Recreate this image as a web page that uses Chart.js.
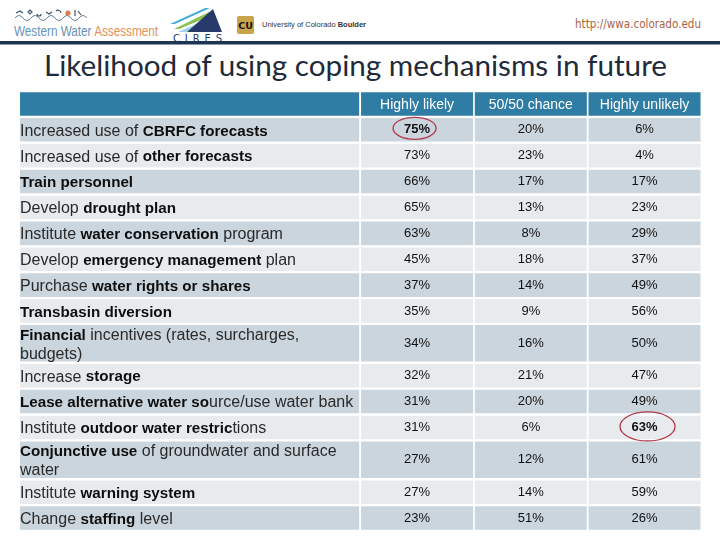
<!DOCTYPE html>
<html>
<head>
<meta charset="utf-8">
<title>Likelihood of using coping mechanisms in future</title>
<script src="https://cdn.jsdelivr.net/npm/chart.js@4.4.1/dist/chart.umd.min.js"></script>
<style>
html,body{margin:0;padding:0;background:#ffffff;}
#page{position:relative;width:720px;height:540px;overflow:hidden;background:#fff;}
#deco{position:absolute;left:0;top:0;}
#chart{position:absolute;left:0;top:0;}
</style>
</head>
<body>
<div id="page">
<svg id="deco" width="720" height="540" xmlns="http://www.w3.org/2000/svg">
  <!-- Western Water Assessment logo -->
  <path d="M15 18 Q19 13 23 18 T31 18 T39 18 T47 18 T55 18 T63 18 T71 18 T79 18 T87 18" fill="none" stroke="#6b8299" stroke-width="1"/>
  <path d="M16 13 l4 -2 l3 2 M28 12 l2 -2 l2 2 l-2 2 z M37 14 a2 2 0 1 0 4 0 M46 12 l3 2 l3 -2 M56 11 a3 3 0 0 1 5 2 M75 10 l0 6 M78 11 l3 4" fill="none" stroke="#3f5266" stroke-width="1.2"/>
  <circle cx="68" cy="13" r="2.6" fill="#e0784a"/>
  <text x="14" y="35.5" font-family="Liberation Sans, Arial, sans-serif" font-size="14" textLength="144" lengthAdjust="spacingAndGlyphs"><tspan fill="#6a93b8">Western Water </tspan><tspan fill="#e4915a">Assessment</tspan></text>
  <!-- CIRES logo -->
  <polygon points="170,24 205,8 210,8 175,24" fill="#47aed4"/>
  <polygon points="174,29 209,12 213,15 179,29" fill="#8cc152"/>
  <polygon points="178,32 212,17 214,20 186,32" fill="#9fd3e6"/>
  <polygon points="187,32 213,9 222,32" fill="#27396b"/>
  <text x="173" y="42" font-family="DejaVu Sans, sans-serif" font-size="10" fill="#27396b" textLength="49" lengthAdjust="spacing">CIRES</text>
  <!-- CU logo -->
  <rect x="237" y="16" width="17" height="18" rx="2" fill="#c9a449"/>
  <text x="245.5" y="29" text-anchor="middle" font-family="DejaVu Sans, sans-serif" font-weight="bold" font-size="9.5" fill="#111">CU</text>
  <text x="262" y="27" font-family="Liberation Sans, Arial, sans-serif" font-size="8" fill="#333" textLength="104" lengthAdjust="spacingAndGlyphs">University of Colorado <tspan font-weight="bold">Boulder</tspan></text>
  <!-- URL -->
  <text x="575" y="27.5" font-family="DejaVu Sans, sans-serif" font-size="12" fill="#a9643f" textLength="126" lengthAdjust="spacingAndGlyphs">http://wwa.colorado.edu</text>
  <!-- dark rule -->
  <rect x="0" y="41" width="720" height="3.5" fill="#1d3551"/>
  <!-- title -->
  <text x="44" y="76" font-family="Lato, 'Open Sans', sans-serif" font-size="29" fill="#1e2b3a" textLength="623" lengthAdjust="spacingAndGlyphs">Likelihood of using coping mechanisms in future</text>
</svg>
<canvas id="chart" width="720" height="540"></canvas>
</div>
<script>
// ---------------- data ----------------
const rowLabels = [
  "Increased use of **CBRFC forecasts**",
  "Increased use of **other forecasts**",
  "**Train personnel**",
  "Develop **drought plan**",
  "Institute **water conservation** program",
  "Develop **emergency management** plan",
  "Purchase **water rights or shares**",
  "**Transbasin diversion**",
  "**Financial** incentives (rates, surcharges,\nbudgets)",
  "Increase **storage**",
  "**Lease alternative water so**urce/use water bank",
  "Institute **outdoor water restric**tions",
  "**Conjunctive use** of groundwater and surface\nwater",
  "Institute **warning system**",
  "Change **staffing** level"
];
const columnLabels = ["Highly likely", "50/50 chance", "Highly unlikely"];
const highlyLikely     = [75, 73, 66, 65, 63, 45, 37, 35, 34, 32, 31, 31, 27, 27, 23];
const fiftyFiftyChance = [20, 23, 17, 13,  8, 18, 14,  9, 16, 21, 20,  6, 12, 14, 51];
const highlyUnlikely   = [ 6,  4, 17, 23, 29, 37, 49, 56, 50, 47, 49, 63, 61, 59, 26];
const circledCells = [{row: 0, col: 0}, {row: 11, col: 2}];

// ---------------- styling / layout ----------------
const seriesValues = [highlyLikely, fiftyFiftyChance, highlyUnlikely];
const FONT = "'Liberation Sans', Arial, sans-serif";
const HEADER_BLUE = '#2f7ca4', STRIPE_DARK = '#cbd5dd', STRIPE_LIGHT = '#e8ebee';
const circleStyle = [{dx: -2.5, dy: -1.5, rx: 21.5, ry: 11}, {dx: 3, dy: -1, rx: 27.5, ry: 14.5}];

// row bands in row units: header = 1, each extra text line adds half a row
const spans = [[0, 1]];
let acc = 1;
rowLabels.forEach(l => {
  const h = 1 + 0.5 * (l.split('\n').length - 1);
  spans.push([acc, acc + h]);
  acc += h;
});
const totalUnits = acc;
const GAP = 0.045;
const barRange = s => [s[0] + GAP, s[1] - GAP];
const fillFor = i => i === 0 ? HEADER_BLUE : (i % 2 === 1 ? STRIPE_DARK : STRIPE_LIGHT);

const xLabels = ['label-a', 'label-b', 'label-c', ...columnLabels];

const common = {grouped: false, categoryPercentage: 1, inflateAmount: 0, borderWidth: 0,
  backgroundColor: c => fillFor(c.dataIndex)};

const datasets = [
  Object.assign({label: 'labels', xAxisID: 'xL', barPercentage: 0.994,
    data: spans.map(s => ({x: 'labels', y: barRange(s)}))}, common),
  ...columnLabels.map(c => Object.assign({label: c, xAxisID: 'x', barPercentage: 0.985,
    data: spans.map(s => ({x: c, y: barRange(s)}))}, common))
];

function drawRich(ctx, text, x, y) {
  const parts = text.split('**');
  let cx = x;
  parts.forEach((p, i) => {
    if (!p) return;
    const bold = i % 2 === 1;
    ctx.font = bold ? `bold 15.2px ${FONT}` : `16px ${FONT}`;
    ctx.fillStyle = bold ? '#0e0e0e' : '#2a2a2a';
    ctx.fillText(p, cx, y);
    cx += ctx.measureText(p).width;
  });
}

const tableText = {
  id: 'tableText',
  afterDatasetsDraw(chart) {
    const {ctx, chartArea, scales: {x, y}} = chart;
    const mid = s => (y.getPixelForValue(s[0]) + y.getPixelForValue(s[1])) / 2;
    ctx.save();
    ctx.textBaseline = 'middle';
    // header
    ctx.fillStyle = '#ffffff';
    ctx.textAlign = 'center';
    ctx.font = `14px ${FONT}`;
    const hy = mid(spans[0]);
    columnLabels.forEach((c, ci) => ctx.fillText(c, x.getPixelForValue(ci + 3), hy + 1));
    // rows
    rowLabels.forEach((lab, r) => {
      const cy = mid(spans[r + 1]);
      const lines = lab.split('\n');
      const lh = 19;
      ctx.textAlign = 'left';
      lines.forEach((ln, li) => {
        const ly = cy + 1.5 + (li - (lines.length - 1) / 2) * lh;
        drawRich(ctx, ln, chartArea.left + 1, ly);
      });
      ctx.textAlign = 'center';
      ctx.fillStyle = '#111111';
      seriesValues.forEach((vals, ci) => {
        const bold = circledCells.some(cc => cc.row === r && cc.col === ci);
        ctx.font = `${bold ? 'bold ' : ''}13px ${FONT}`;
        ctx.fillText(vals[r] + '%', x.getPixelForValue(ci + 3), cy);
      });
    });
    // annotation ellipses
    ctx.strokeStyle = '#b5384a';
    ctx.lineWidth = 1.3;
    circledCells.forEach((cc, k) => {
      const st = circleStyle[k];
      const cx = x.getPixelForValue(cc.col + 3) + st.dx;
      const cy = mid(spans[cc.row + 1]) + st.dy;
      ctx.beginPath();
      ctx.ellipse(cx, cy, st.rx, st.ry, 0, 0, Math.PI * 2);
      ctx.stroke();
    });
    ctx.restore();
  }
};

new Chart(document.getElementById('chart'), {
  type: 'bar',
  data: {labels: xLabels, datasets},
  options: {
    responsive: false,
    animation: false,
    devicePixelRatio: 1,
    layout: {padding: {left: 19, right: 18.6, top: 91, bottom: 9}},
    plugins: {legend: {display: false}, tooltip: {enabled: false}, title: {display: false}},
    scales: {
      x: {type: 'category', labels: xLabels, display: false, offset: true},
      xL: {type: 'category', labels: ['labels', 'data'], display: false, offset: true},
      y: {type: 'linear', min: 0, max: totalUnits, reverse: true, display: false}
    }
  },
  plugins: [tableText]
});
</script>
</body>
</html>
